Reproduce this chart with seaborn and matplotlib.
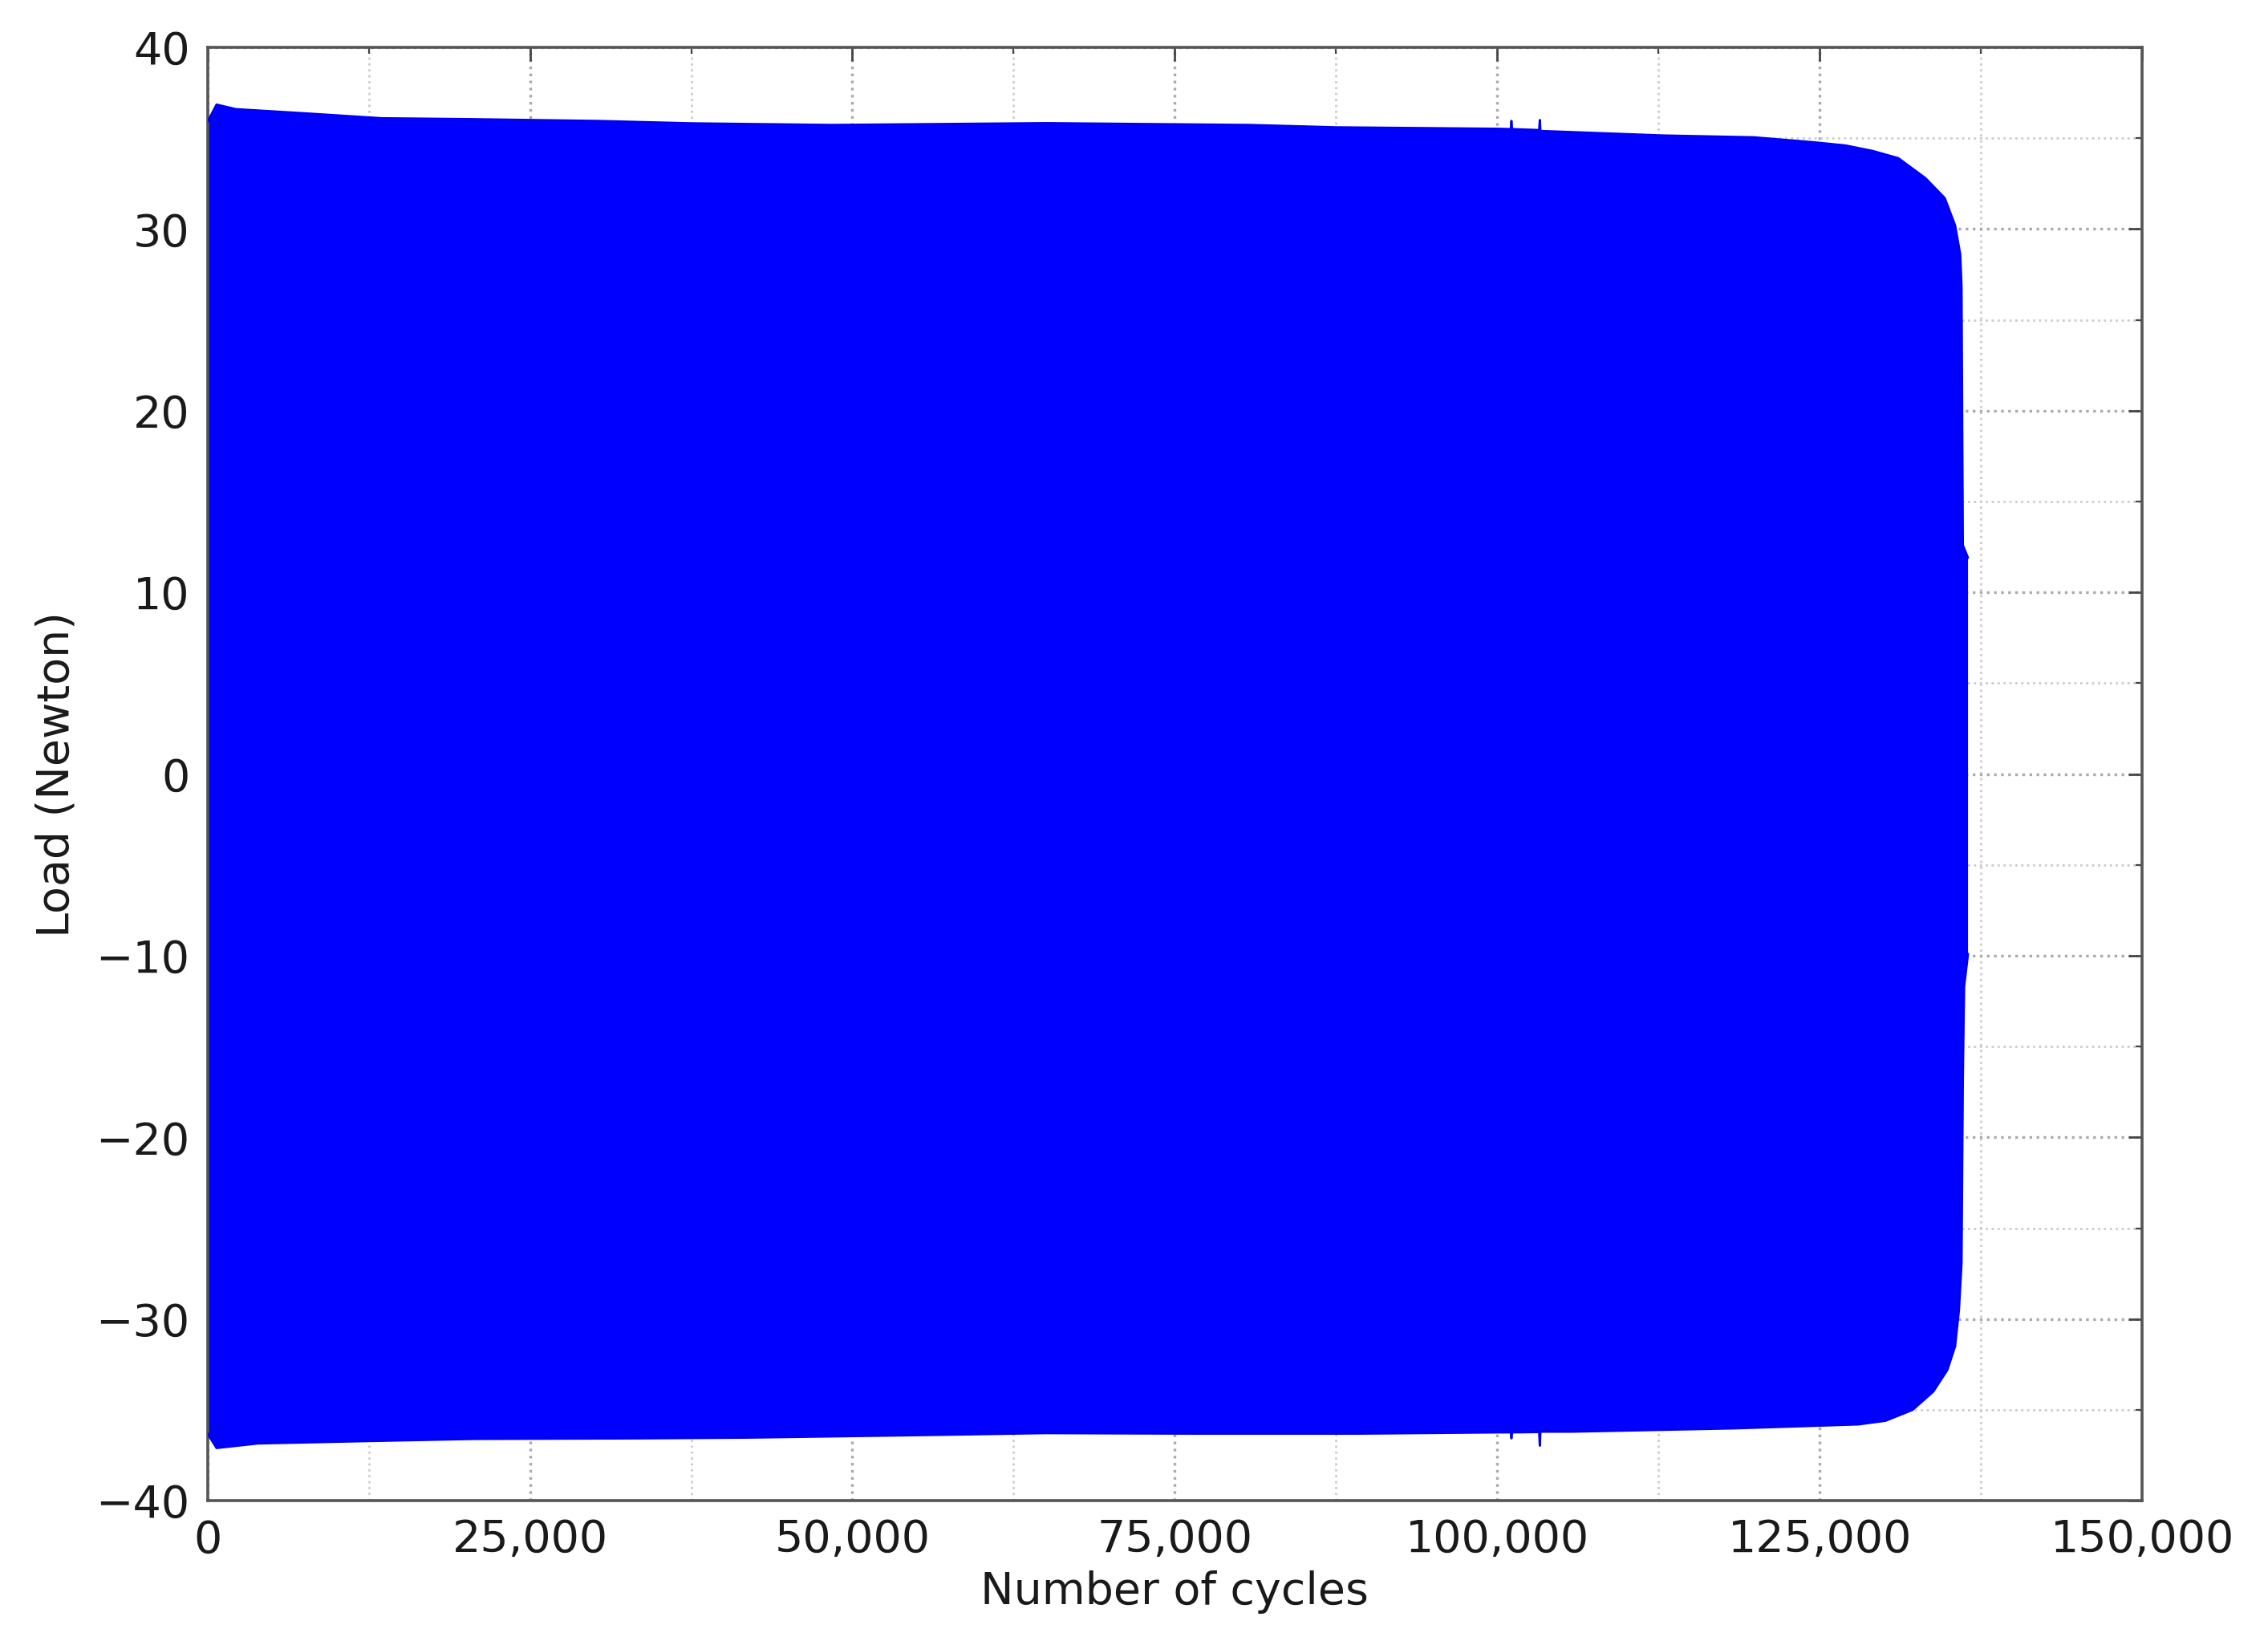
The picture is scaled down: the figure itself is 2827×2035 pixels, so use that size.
import matplotlib
matplotlib.use("Agg")
import matplotlib.pyplot as plt
import numpy as np
import seaborn as sns
from matplotlib.ticker import FuncFormatter, MultipleLocator

# envelope of the cyclic load signal
upper_cycles = [0, 700, 2200, 8000, 13500, 20300, 30300, 37500, 48400, 65000,
                80800, 87500, 100000, 101050, 101100, 101150, 103250, 103300,
                103350, 112900, 119900, 124500, 127000, 129100, 131100, 133200,
                134700, 135500, 135900, 136000, 136100, 136500]
upper_load = [35.9, 36.85, 36.6, 36.35, 36.1, 36.05, 35.95, 35.82, 35.73, 35.83,
              35.73, 35.6, 35.52, 35.5, 35.95, 35.5, 35.45, 36.0,
              35.4, 35.15, 35.05, 34.78, 34.6, 34.3, 33.9, 32.8,
              31.7, 30.2, 28.6, 26.8, 12.6, 11.9]

lower_cycles = [0, 700, 3900, 12300, 20700, 33300, 41700, 56300, 65000, 76700,
                89100, 100000, 101050, 101100, 101150, 103250, 103300, 103350,
                105800, 118300, 124500, 128000, 130100, 132200, 133800, 134900,
                135500, 135800, 136000, 136100, 136200, 136500]
lower_load = [-36.3, -37.1, -36.85, -36.72, -36.6, -36.57, -36.53, -36.38, -36.28, -36.31,
              -36.31, -36.24, -36.24, -36.57, -36.24, -36.22, -36.97, -36.2,
              -36.2, -36.02, -35.88, -35.8, -35.6, -35.0, -34.0, -32.8,
              -31.5, -29.5, -26.9, -16.8, -11.7, -9.9]

x_ticks = [0, 25000, 50000, 75000, 100000, 125000, 150000]
y_ticks = [-40, -30, -20, -10, 0, 10, 20, 30, 40]

sns.set_theme(style="white")
plt.rcParams["font.family"] = ["DejaVu Sans"]

fig = plt.figure(figsize=(14.135, 10.175), dpi=200)
ax = fig.add_axes([0.0915, 0.081, 0.853, 0.89])

band_x = np.r_[upper_cycles, lower_cycles[::-1]]
band_y = np.r_[upper_load, lower_load[::-1]]
ax.fill(band_x, band_y, color="#0000ff", lw=0, zorder=2)
sns.lineplot(x=upper_cycles, y=upper_load, color="#0000ee", lw=1.0, ax=ax, zorder=3)
sns.lineplot(x=lower_cycles, y=lower_load, color="#0000ee", lw=1.0, ax=ax, zorder=3)

ax.set_xlim(0, 150000)
ax.set_ylim(-40, 40)
ax.set_xticks(x_ticks)
ax.set_yticks(y_ticks)
ax.xaxis.set_minor_locator(MultipleLocator(12500))
ax.yaxis.set_minor_locator(MultipleLocator(5))
ax.xaxis.set_major_formatter(FuncFormatter(lambda v, p: f"{int(v):,}"))

ax.grid(which="major", linestyle=":", color="#aaaaaa", lw=1.2, zorder=0)
ax.grid(which="minor", linestyle=":", color="#cccccc", lw=1.0, zorder=0)
ax.set_axisbelow(True)

ax.tick_params(which="both", direction="in", top=True, right=True,
               color="#444444", labelcolor="#1a1a1a")
ax.tick_params(which="major", length=6, width=1.0, labelsize=20, pad=8)
ax.tick_params(which="minor", length=3, width=0.8)
for s in ax.spines.values():
    s.set_color("#555555")
    s.set_linewidth(1.3)

ax.set_xlabel("Number of cycles", fontsize=20, color="#1a1a1a", labelpad=4)
ax.set_ylabel("Load (Newton)", fontsize=20, color="#1a1a1a", labelpad=8)

fig.savefig("out.png", dpi=200, facecolor="white")
